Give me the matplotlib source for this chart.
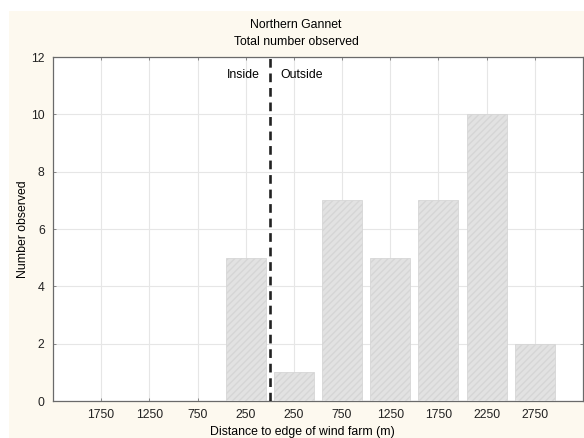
import matplotlib
matplotlib.use('Agg')
import matplotlib.pyplot as plt
from matplotlib.patches import Rectangle

plt.rcParams['font.family'] = ['Liberation Sans', 'DejaVu Sans']

# data
distance_labels = ['1750', '1250', '750', '250', '250', '750',
                   '1250', '1750', '2250', '2750']
counts = [0, 0, 0, 5, 1, 7, 5, 7, 10, 2]
y_ticks = [0, 2, 4, 6, 8, 10, 12]

W, H = 584, 438
fig = plt.figure(figsize=(W / 100, H / 100), dpi=100, facecolor='white')
# cream panel behind the chart
fig.patches.append(Rectangle((9 / W, 0), 1, 1 - 11 / H, transform=fig.transFigure,
                             facecolor='#fdf9ef', edgecolor='none', zorder=-5))

ax = fig.add_axes([53 / W, 1 - 401 / H, (583 - 53) / W, (401 - 57) / H])
ax.set_facecolor('white')

pos = list(range(1, len(counts) + 1))
ax.bar(pos, counts, width=0.83, color='#e2e2e2', edgecolor='#d6d6d6',
       hatch='/////', linewidth=0.6, zorder=3)

ax.set_xlim(0, 11)
ax.set_ylim(0, 12)
ax.set_xticks(pos)
ax.set_xticklabels(distance_labels)
ax.set_yticks(y_ticks)
ax.grid(True, color='#e6e6e6', linewidth=0.8, zorder=0)
ax.tick_params(labelsize=8.8, colors='#777777', labelcolor='#222222',
               direction='in', length=2.5, width=0.6, top=True, right=True)
ax.tick_params(axis='x', pad=6)
ax.tick_params(axis='y', pad=6)
for s in ax.spines.values():
    s.set_color('#6a6a6a')
    s.set_linewidth(0.9)

# inside / outside divider
ax.axvline(4.5, color='#222222', linestyle=(0, (3.3, 2.2)), linewidth=1.9, zorder=4)
ax.text(4.3, 11.38, 'Inside', ha='right', va='center', fontsize=8.8)
ax.text(4.72, 11.38, 'Outside', ha='left', va='center', fontsize=8.8)

ax.set_ylabel('Number observed', fontsize=8.8)
ax.yaxis.set_label_coords(-(53 - 23) / 530, 0.5)
ax.set_xlabel('Distance to edge of wind farm (m)', fontsize=8.8)
ax.xaxis.set_label_coords(0.47, -(432 - 401) / 344)
ax.xaxis.label.set_va('center')
ax.yaxis.label.set_va('center')

fig.text(0.5 + 4 / W, 1 - 25 / H, 'Northern Gannet', ha='center', va='center',
         fontsize=8.8)
fig.text(0.5 + 4 / W, 1 - 42 / H, 'Total number observed', ha='center',
         va='center', fontsize=8.8)

fig.savefig('out.png', dpi=100, facecolor=fig.get_facecolor())
